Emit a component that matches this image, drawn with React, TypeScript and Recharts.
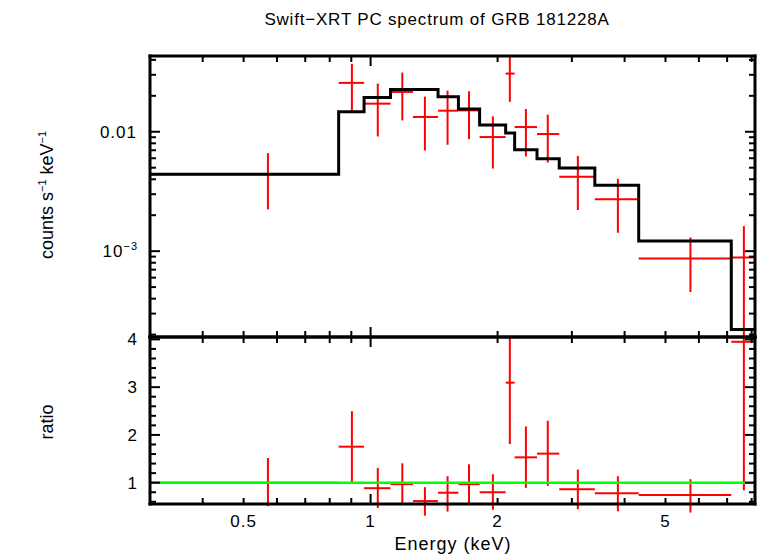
import { ComposedChart, Scatter, Line, XAxis, YAxis, ErrorBar, ReferenceLine } from 'recharts';

// spectral bins (keV)
const binEdges = [0.3, 0.84, 0.965, 1.115, 1.26, 1.445, 1.615, 1.813, 2.09, 2.195, 2.48, 2.8, 3.4, 4.32, 7.16, 8.15];
const binCentres = [0.571, 0.903, 1.04, 1.189, 1.345, 1.522, 1.711, 1.949, 2.138, 2.334, 2.63, 3.099, 3.856, 5.73, 7.67];

// counts s^-1 keV^-1 (error ends that run off the frame are read at the frame edge)
const rate = [0.00441, 0.02566, 0.01719, 0.02156, 0.0133, 0.01501, 0.0151, 0.00903, 0.0307, 0.01095, 0.00957, 0.00419, 0.00272, 0.000868, 0.000885];
const rateLo = [0.00224, 0.015, 0.00913, 0.01245, 0.00697, 0.00778, 0.00868, 0.00492, 0.0178, 0.0062, 0.00552, 0.00221, 0.001425, 0.000455, 0.000192];
const rateHi = [0.00662, 0.0371, 0.02531, 0.0313, 0.01968, 0.0221, 0.0218, 0.01345, 0.043, 0.01552, 0.0139, 0.00628, 0.00403, 0.001303, 0.00162];
const modelRate = [0.00441, 0.01472, 0.0194, 0.02254, 0.02254, 0.01968, 0.01551, 0.01138, 0.00975, 0.00706, 0.00593, 0.00498, 0.00356, 0.001214, 0.000221];

// data / model
const ratio = [1.0, 1.754, 0.885, 0.97, 0.615, 0.79, 0.97, 0.8, 3.094, 1.531, 1.608, 0.865, 0.78, 0.74, 3.95];
const ratioLo = [0.508, 1.017, 0.47, 0.567, 0.31, 0.395, 0.567, 0.432, 1.81, 0.89, 0.934, 0.444, 0.4, 0.375, 0.84];
const ratioHi = [1.517, 2.496, 1.31, 1.406, 0.906, 1.135, 1.385, 1.177, 4.04, 2.177, 2.296, 1.275, 1.135, 1.073, 4.04];

const energyTicks = [0.4, 0.5, 0.6, 0.7, 0.8, 0.9, 1, 2, 3, 4, 5, 6, 7, 8];
const energyLabels = [0.5, 1, 2, 5];
const energyMajor = [1];
const rateTicks = [0.0002, 0.0003, 0.0004, 0.0005, 0.0006, 0.0007, 0.0008, 0.0009, 0.001, 0.002, 0.003, 0.004, 0.005, 0.006, 0.007, 0.008, 0.009, 0.01, 0.02, 0.03, 0.04];
const rateMajor = [0.001, 0.01];
const ratioTicks = [0.6, 0.8, 1, 1.2, 1.4, 1.6, 1.8, 2, 2.2, 2.4, 2.6, 2.8, 3, 3.2, 3.4, 3.6, 3.8, 4];
const ratioMajor = [1, 2, 3, 4];

const energyDomain = [0.3, 8.15];
const rateDomain = [0.000191, 0.0431];
const ratioDomain = [0.554, 4.05];

const FONT = '"Liberation Sans", Arial, Helvetica, sans-serif';
const frame = { stroke: '#000', strokeWidth: 3, strokeLinecap: 'square' as const };

const modelData = binEdges.map((e, i) => ({ e, v: modelRate[Math.min(i, modelRate.length - 1)] }));
const specData = binCentres.map((e, i) => ({
  e,
  v: rate[i],
  xe: [e - binEdges[i], binEdges[i + 1] - e],
  ye: [rate[i] - rateLo[i], rateHi[i] - rate[i]],
}));
const ratioData = binCentres.map((e, i) => ({
  e,
  v: ratio[i],
  xe: [e - binEdges[i], binEdges[i + 1] - e],
  ye: [ratio[i] - ratioLo[i], ratioHi[i] - ratio[i]],
}));

type Side = 'bottom' | 'top' | 'left' | 'right';

function tickMaker(side: Side, major: number[], label?: (v: number, x: number, y: number) => any) {
  return (props: any) => {
    const { x, y, payload } = props;
    const v = payload.value;
    const len = major.includes(v) ? 10 : 6;
    let x2 = x;
    let y2 = y;
    if (side === 'bottom') y2 = y - len;
    else if (side === 'top') y2 = y + len;
    else if (side === 'left') x2 = x + len;
    else x2 = x - len;
    return (
      <g>
        <line x1={x} y1={y} x2={x2} y2={y2} stroke="#000" strokeWidth={2} />
        {label ? label(v, x, y) : null}
      </g>
    );
  };
}

const txt = { fontFamily: FONT, fontSize: 17, fill: '#000', letterSpacing: 1 };

const energyLabel = (v: number, x: number, y: number) =>
  energyLabels.includes(v) ? (
    <text x={x} y={y + 23} textAnchor="middle" {...txt}>{v}</text>
  ) : null;

const rateLabel = (v: number, x: number, y: number) => {
  if (v === 0.01) return <text x={x - 13} y={y + 6} textAnchor="end" {...txt}>0.01</text>;
  if (v === 0.001)
    return (
      <text x={x - 12} y={y + 6} textAnchor="end" {...txt}>
        10<tspan fontSize={11} dy={-7}>−3</tspan>
      </text>
    );
  return null;
};

const ratioLabel = (v: number, x: number, y: number) =>
  ratioMajor.includes(v) ? (
    <text x={x - 12} y={y + 6} textAnchor="end" {...txt}>{v}</text>
  ) : null;

const noMarker = () => <g />;

const axisCommon = {
  tickSize: 0,
  tickMargin: 0,
  tickLine: false,
  axisLine: frame,
  allowDataOverflow: true,
  interval: 0 as const,
  type: 'number' as const,
};

function SpectrumPanel() {
  return (
    <ComposedChart width={758} height={340} margin={{ top: 55, right: 2, bottom: 2, left: 149 }}>
      <XAxis {...axisCommon} dataKey="e" scale="log" domain={energyDomain} ticks={energyTicks} height={1}
        tick={tickMaker('bottom', energyMajor)} />
      <XAxis {...axisCommon} xAxisId="top" orientation="top" dataKey="e" scale="log" domain={energyDomain} ticks={energyTicks} height={1}
        tick={tickMaker('top', energyMajor)} />
      <YAxis {...axisCommon} dataKey="v" scale="log" domain={rateDomain} ticks={rateTicks} width={1}
        tick={tickMaker('left', rateMajor, rateLabel)} />
      <YAxis {...axisCommon} yAxisId="right" orientation="right" dataKey="v" scale="log" domain={rateDomain} ticks={rateTicks} width={1}
        tick={tickMaker('right', rateMajor)} />
      <Scatter data={specData} dataKey="v" shape={noMarker} isAnimationActive={false}>
        <ErrorBar dataKey="xe" direction="x" width={0} stroke="#ff0000" strokeWidth={2} />
        <ErrorBar dataKey="ye" direction="y" width={0} stroke="#ff0000" strokeWidth={2} />
      </Scatter>
      <Line data={modelData} dataKey="v" type="stepAfter" stroke="#000" strokeWidth={3} dot={false} activeDot={false} isAnimationActive={false} />
    </ComposedChart>
  );
}

function RatioPanel() {
  return (
    <ComposedChart width={758} height={240} margin={{ top: 20, right: 2, bottom: 51, left: 149 }}>
      <XAxis {...axisCommon} dataKey="e" scale="log" domain={energyDomain} ticks={energyTicks} height={1}
        tick={tickMaker('bottom', energyMajor, energyLabel)} />
      <XAxis {...axisCommon} xAxisId="top" orientation="top" dataKey="e" scale="log" domain={energyDomain} ticks={energyTicks} height={1}
        tick={tickMaker('top', energyMajor)} />
      <YAxis {...axisCommon} dataKey="v" domain={ratioDomain} ticks={ratioTicks} width={1}
        tick={tickMaker('left', ratioMajor, ratioLabel)} />
      <YAxis {...axisCommon} yAxisId="right" orientation="right" dataKey="v" domain={ratioDomain} ticks={ratioTicks} width={1}
        tick={tickMaker('right', ratioMajor)} />
      <Scatter data={ratioData} dataKey="v" shape={noMarker} isAnimationActive={false}>
        <ErrorBar dataKey="xe" direction="x" width={0} stroke="#ff0000" strokeWidth={2} />
        <ErrorBar dataKey="ye" direction="y" width={0} stroke="#ff0000" strokeWidth={2} />
      </Scatter>
      <ReferenceLine y={1} stroke="#00ff00" strokeWidth={2.5} />
    </ComposedChart>
  );
}

export default function App() {
  return (
    <div style={{ position: 'absolute', left: 0, top: 0, width: 758, height: 556, background: '#fff' }}>
      <div style={{ position: 'absolute', left: 0, top: 0 }}>
        <SpectrumPanel />
      </div>
      <div style={{ position: 'absolute', left: 0, top: 316 }}>
        <RatioPanel />
      </div>
      <svg width={758} height={556} style={{ position: 'absolute', left: 0, top: 0, pointerEvents: 'none' }}>
        <text x={437} y={25} textAnchor="middle" fontFamily={FONT} fontSize={17} letterSpacing={0.8}>
          Swift−XRT PC spectrum of GRB 181228A
        </text>
        <text x={453} y={550} textAnchor="middle" fontFamily={FONT} fontSize={18} letterSpacing={1}>
          Energy (keV)
        </text>
        <text transform="translate(53,195) rotate(-90)" textAnchor="middle" fontFamily={FONT} fontSize={18}>
          counts s<tspan fontSize={11} dy={-7}>−1</tspan>
          <tspan dy={7}> keV</tspan>
          <tspan fontSize={11} dy={-7}>−1</tspan>
        </text>
        <text transform="translate(53,422) rotate(-90)" textAnchor="middle" fontFamily={FONT} fontSize={18}>
          ratio
        </text>
      </svg>
    </div>
  );
}
